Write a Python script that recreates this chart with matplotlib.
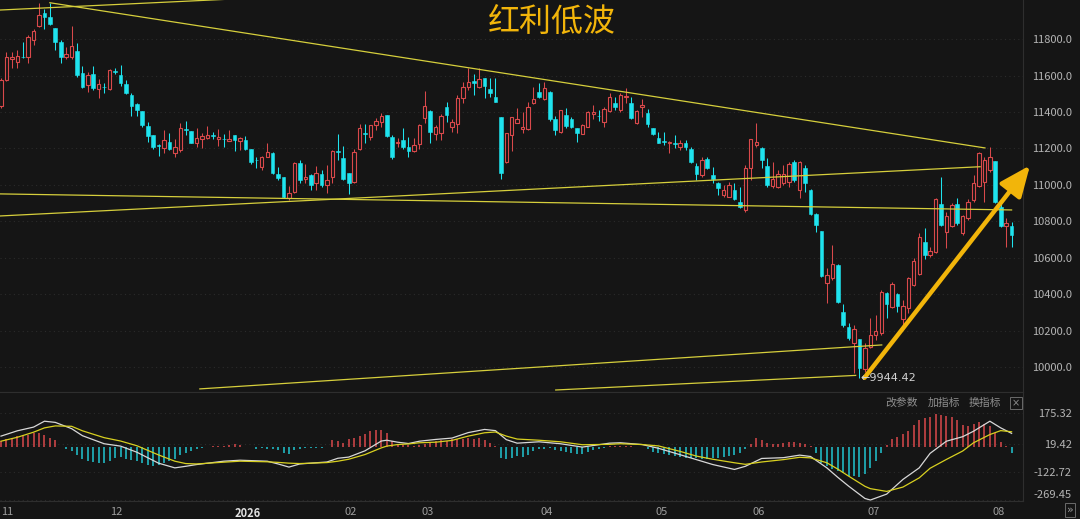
import matplotlib
matplotlib.use('Agg')
import matplotlib.pyplot as plt
import numpy as np
from matplotlib.patches import FancyArrowPatch

plt.rcParams['font.family'] = ['Noto Sans CJK SC', 'DejaVu Sans']

# 日K数据
opens = [
    11433, 11575, 11690, 11674, 11702, 11701, 11795, 11871, 11942, 11921,
    11860, 11784, 11701, 11701, 11734, 11614, 11548, 11608, 11526, 11539,
    11526, 11625, 11603, 11553, 11493, 11444, 11405, 11323, 11274, 11219,
    11203, 11236, 11175, 11192, 11307, 11296, 11232, 11250, 11259, 11272,
    11254, 11253, 11243, 11272, 11243, 11246, 11196, 11137, 11100, 11155,
    11177, 11058, 11042, 10930, 10960, 11119, 11033, 11053, 11012, 11060,
    11000, 11042, 11184, 11146, 11067, 11018, 11196, 11285, 11261, 11329,
    11347, 11383, 11265, 11228, 11246, 11210, 11188, 11225, 11365, 11407,
    11279, 11283, 11429, 11319, 11334, 11478, 11535, 11571, 11539, 11585,
    11524, 11484, 11374, 11128, 11274, 11341, 11307, 11305, 11448, 11511,
    11470, 11511, 11362, 11292, 11383, 11360, 11314, 11279, 11319, 11389,
    11380, 11347, 11407, 11448, 11411, 11481, 11448, 11341, 11426, 11393,
    11314, 11256, 11239, 11228, 11230, 11207, 11232, 11196, 11104, 11055,
    11141, 11055, 11009, 10945, 10936, 10973, 10908, 10863, 11091, 11219,
    11201, 11104, 10994, 10987, 11009, 11018, 11128, 10973, 11091, 10973,
    10841, 10749, 10461, 10489, 10562, 10306, 10223, 10136, 10154, 9990,
    10114, 10178, 10187, 10406, 10333, 10403, 10264, 10324, 10452, 10512,
    10689, 10616, 10634, 10896, 10744, 10775, 10896, 10738, 10817, 10918,
    10994, 11018, 11082, 11133, 10881, 10775, 10775]
highs = [
    11586, 11729, 11729, 11740, 11784, 11822, 11855, 11997, 11964, 11999,
    11862, 11795, 11756, 11871, 11778, 11652, 11619, 11652, 11581, 11559,
    11635, 11641, 11658, 11575, 11504, 11449, 11407, 11345, 11276, 11225,
    11301, 11285, 11252, 11340, 11352, 11298, 11312, 11285, 11323, 11290,
    11307, 11279, 11301, 11276, 11261, 11268, 11196, 11152, 11159, 11232,
    11178, 11100, 11043, 10994, 11126, 11137, 11115, 11060, 11104, 11082,
    11109, 11192, 11278, 11215, 11068, 11196, 11334, 11334, 11331, 11365,
    11393, 11385, 11274, 11256, 11314, 11261, 11256, 11334, 11517, 11411,
    11329, 11387, 11456, 11360, 11493, 11566, 11639, 11608, 11639, 11586,
    11585, 11585, 11375, 11285, 11374, 11420, 11402, 11456, 11535, 11561,
    11566, 11513, 11378, 11412, 11420, 11374, 11315, 11333, 11407, 11438,
    11411, 11429, 11502, 11484, 11506, 11530, 11484, 11411, 11470, 11415,
    11315, 11292, 11292, 11241, 11274, 11246, 11246, 11210, 11119, 11152,
    11153, 11097, 11018, 11000, 11018, 11009, 10991, 11109, 11251, 11338,
    11210, 11146, 11128, 11082, 11109, 11128, 11137, 11130, 11109, 10978,
    10845, 10750, 10543, 10671, 10565, 10348, 10245, 10233, 10155, 10136,
    10269, 10287, 10425, 10415, 10470, 10410, 10370, 10497, 10598, 10738,
    10763, 10662, 10927, 11045, 10854, 10903, 10927, 10835, 10922, 11055,
    11182, 11152, 11210, 11134, 10896, 10817, 10799]
lows = [
    11422, 11570, 11641, 11641, 11696, 11668, 11767, 11866, 11855, 11877,
    11740, 11668, 11690, 11690, 11592, 11531, 11510, 11520, 11477, 11504,
    11522, 11608, 11542, 11499, 11378, 11378, 11318, 11236, 11197, 11159,
    11175, 11192, 11153, 11181, 11274, 11228, 11210, 11203, 11252, 11252,
    11214, 11210, 11241, 11186, 11192, 11192, 11115, 11091, 11082, 11152,
    11062, 11027, 10927, 10918, 10956, 11012, 11012, 10973, 10973, 10991,
    10954, 11009, 11137, 11027, 10951, 11012, 11192, 11228, 11246, 11301,
    11319, 11261, 11141, 11207, 11196, 11152, 11182, 11196, 11338, 11232,
    11246, 11246, 11347, 11292, 11283, 11451, 11520, 11493, 11530, 11475,
    11481, 11454, 11031, 11119, 11188, 11339, 11283, 11301, 11446, 11475,
    11466, 11352, 11274, 11286, 11311, 11311, 11237, 11277, 11316, 11360,
    11352, 11319, 11402, 11411, 11402, 11451, 11360, 11334, 11371, 11319,
    11274, 11228, 11219, 11177, 11201, 11192, 11192, 11119, 11027, 11045,
    11090, 11009, 10945, 10936, 10933, 10918, 10872, 10854, 11027, 11210,
    11091, 10991, 10982, 10982, 11000, 10987, 11018, 10927, 10963, 10836,
    10744, 10497, 10351, 10479, 10351, 10223, 10151, 9968, 9944.42, 9977,
    10105, 10151, 10178, 10269, 10324, 10306, 10223, 10297, 10446, 10507,
    10593, 10607, 10629, 10775, 10653, 10771, 10781, 10726, 10808, 10908,
    10987, 10908, 11073, 10901, 10771, 10662, 10662]
closes = [
    11575, 11701, 11701, 11707, 11700, 11811, 11844, 11931, 11921, 11882,
    11784, 11701, 11718, 11762, 11603, 11537, 11603, 11531, 11553, 11536,
    11630, 11622, 11559, 11504, 11433, 11411, 11329, 11268, 11208, 11216,
    11246, 11197, 11208, 11312, 11303, 11232, 11256, 11268, 11276, 11269,
    11261, 11250, 11250, 11246, 11256, 11196, 11124, 11135, 11152, 11182,
    11064, 11037, 10936, 10958, 11122, 11027, 11045, 11000, 11064, 11000,
    11027, 11188, 11180, 11033, 11012, 11179, 11311, 11282, 11329, 11351,
    11378, 11268, 11155, 11237, 11210, 11188, 11219, 11329, 11433, 11292,
    11319, 11378, 11383, 11347, 11475, 11539, 11563, 11561, 11579, 11542,
    11502, 11456, 11064, 11283, 11371, 11360, 11319, 11429, 11470, 11480,
    11530, 11360, 11301, 11411, 11323, 11319, 11283, 11329, 11398, 11398,
    11376, 11415, 11481, 11429, 11493, 11488, 11365, 11407, 11438, 11334,
    11279, 11232, 11236, 11237, 11227, 11228, 11207, 11128, 11060, 11137,
    11093, 11031, 10985, 10973, 11000, 10922, 10878, 11091, 11250, 11237,
    11137, 11000, 11031, 11060, 11060, 11115, 11027, 11128, 11012, 10841,
    10781, 10501, 10507, 10567, 10357, 10233, 10160, 10209, 9995, 10105,
    10178, 10201, 10415, 10348, 10457, 10337, 10337, 10489, 10585, 10717,
    10616, 10640, 10922, 10781, 10830, 10890, 10790, 10830, 10908, 11009,
    11177, 11137, 11152, 10908, 10775, 10790, 10726]

# MACD柱
macd_hist = [
    35, 41, 49, 58, 66, 66, 75, 75, 66, 49,
    36, 3, -10, -19, -39, -61, -70, -73, -78, -78,
    -70, -56, -49, -61, -66, -70, -78, -87, -95, -87,
    -78, -70, -61, -36, -27, -19, -10, -3, 5, 7,
    8, 10, 12, 20, 12, 5, 2, -7, -5, -7,
    -8, -15, -27, -32, -12, -6, -5, -4, -4, -3,
    3, 36, 32, 24, 41, 49, 58, 70, 83, 87,
    87, 75, 32, 15, 12, 15, 10, 15, 18, 26,
    32, 36, 34, 41, 41, 44, 46, 41, 49, 36,
    24, 7, -53, -61, -53, -44, -48, -36, -19, -10,
    -10, -5, -12, -19, -22, -27, -32, -32, -22, -12,
    -7, -2, 8, 10, 7, 10, 8, 3, 3, -10,
    -22, -27, -32, -39, -44, -49, -53, -56, -56, -61,
    -61, -56, -53, -49, -44, -39, -27, -10, 19, 46,
    36, 24, 19, 19, 24, 27, 29, 24, 19, 7,
    -27, -78, -95, -112, -121, -129, -143, -146, -151, -134,
    -107, -70, -27, 12, 41, 53, 70, 83, 117, 138,
    148, 155, 173, 168, 163, 155, 138, 117, 112, 121,
    131, 121, 109, 75, 29, 7, -27]

# DIF / DEA（按K线序号读点）
line_idx = [0, 3, 6, 8, 10, 13, 15, 19, 22, 25, 29, 32, 34, 36, 41, 44, 49, 51, 53, 55,
            60, 62, 64, 67, 70, 71, 73, 75, 77, 80, 83, 86, 89, 91, 93, 95, 99, 103, 107, 112,
            114, 118, 121, 125, 128, 131, 135, 137, 140, 144, 147, 149, 152, 154, 156, 159, 160, 163, 166, 169,
            171, 174, 177, 179, 182, 184, 186]
dif = [58, 85, 104, 134, 128, 96, 60, 19, 7, -24, -80, -104, -96, -87, -70, -65, -70, -84, -100, -84,
       -74, -55, -49, -17, 33, 37, 27, 20, 32, 41, 48, 76, 92, 86, 40, 22, 29, 19, 2, 22,
       24, 15, -4, -37, -62, -87, -112, -96, -56, -52, -39, -46, -104, -152, -197, -260, -268, -238, -163, -104,
       -30, 32, 55, 83, 134, 100, 72]
dea = [32, 52, 78, 100, 110, 108, 85, 50, 33, 9, -38, -70, -82, -84, -75, -70, -73, -76, -80, -82,
       -77, -70, -60, -36, -2, 7, 15, 18, 24, 27, 36, 58, 75, 79, 58, 43, 37, 29, 14, 16,
       19, 15, 8, -20, -44, -60, -78, -86, -74, -62, -50, -53, -78, -110, -146, -198, -210, -224, -202, -155,
       -106, -61, -18, 24, 66, 86, 80]

# 画线（序号, 点位）
trend_lines = [
    ((-0.2, 11959), (60, 12044)),
    ((9, 11999), (181.1, 11203)),
    ((-0.2, 10951), (186.0, 10863)),
    ((-0.2, 10830), (180.2, 11100)),
    ((36.6, 9882), (162.1, 10123)),
    ((102.1, 9876), (157.3, 9956)),
]
arrow_from = (158.6, 9931)
arrow_to = (189.7, 11119)

tick_pos = [1.2, 21.3, 45.5, 64.4, 78.5, 100.5, 121.6, 139.5, 160.7, 183.6]
tick_lab = ['11', '12', '2026', '02', '03', '04', '05', '06', '07', '08']
price_ticks = [10000, 10200, 10400, 10600, 10800, 11000, 11200, 11400, 11600, 11800]
macd_ticks = [175.32, 19.42, -122.72, -269.45]

BG = '#151515'
RED = '#d9494b'
CYAN = '#1fe3ee'
LINE = '#d6cf3c'
GOLD = '#f2b50a'
GRID = '#2b2b2b'
EDGE = '#2e2e2e'

W, H = 1080, 519
fig = plt.figure(figsize=(W / 100, H / 100), dpi=100, facecolor=BG)
ax = fig.add_axes([0, 1 - 392 / H, 1023 / W, 392 / H], facecolor=BG)
ax2 = fig.add_axes([0, 1 - 501 / H, 1023 / W, 109 / H], facecolor=BG, sharex=ax)

o = np.array(opens, dtype=float)
h = np.array(highs, dtype=float)
l = np.array(lows, dtype=float)
c = np.array(closes, dtype=float)
x = np.arange(len(c))
up = c >= o

# K线
ax.vlines(x[up], l[up], h[up], color=RED, lw=0.75, zorder=2)
ax.vlines(x[~up], l[~up], h[~up], color=CYAN, lw=0.75, zorder=2)
ax.bar(x[up], c[up] - o[up], bottom=o[up], width=0.62, facecolor=BG,
       edgecolor=RED, lw=0.8, zorder=3)
ax.bar(x[~up], o[~up] - c[~up], bottom=c[~up], width=0.68, facecolor=CYAN,
       edgecolor=CYAN, lw=0.4, zorder=3)

for (x0, y0), (x1, y1) in trend_lines:
    ax.plot([x0, x1], [y0, y1], color=LINE, lw=0.9, zorder=4)

arr = FancyArrowPatch(arrow_from, arrow_to, arrowstyle='-|>,head_length=0.75,head_width=0.32',
                      mutation_scale=25, color=GOLD, lw=3.2, zorder=6, clip_on=False)
ax.add_patch(arr)

imin = int(np.argmin(l))
ax.annotate('\u2190' + f'{l[imin]:.2f}', xy=(imin, l[imin]), xytext=(1, 0),
            textcoords='offset points', ha='left', va='center', fontsize=8,
            color='#d2d2d2', family=['DejaVu Sans'], zorder=7)

ax.set_xlim(-0.18, 188.1)
ax.set_ylim(9865, 12014)
ax.yaxis.tick_right()
ax.set_yticks(price_ticks)
ax.set_yticklabels([f'{v:.1f}' for v in price_ticks])
ax.tick_params(axis='y', length=0, pad=35, labelsize=8, labelcolor='#b4b4b4')
for t in ax.get_yticklabels():
    t.set_ha('right')
ax.tick_params(axis='x', bottom=False, labelbottom=False)
ax.grid(axis='y', color=GRID, ls=(0, (1, 3)), lw=0.8)
for s in ['left', 'top']:
    ax.spines[s].set_visible(False)
for s in ['right', 'bottom']:
    ax.spines[s].set_color(EDGE)

# MACD
hist = np.array(macd_hist, dtype=float)
ax2.vlines(x, 0, hist, colors=np.where(hist >= 0, RED, '#22c6d2'), lw=1.1)
ax2.plot(line_idx, dif, color='#d8d8d8', lw=0.9)
ax2.plot(line_idx, dea, color='#d8d020', lw=0.9)
ax2.set_ylim(-273, 283)
ax2.yaxis.tick_right()
ax2.set_yticks(macd_ticks)
ax2.set_yticklabels([f'{v:.2f}' for v in macd_ticks])
ax2.tick_params(axis='y', length=0, pad=35, labelsize=8, labelcolor='#b4b4b4')
ylabs = ax2.get_yticklabels()
for t in ylabs:
    t.set_ha('right')
ylabs[-1].set_va('bottom')
ax2.grid(axis='y', color=GRID, ls=(0, (1, 3)), lw=0.8)
ax2.set_xticks(tick_pos)
ax2.set_xticklabels(tick_lab)
ax2.tick_params(axis='x', length=0, pad=4, labelsize=8, labelcolor='#9c9c9c')
for t in ax2.get_xticklabels():
    if t.get_text() == '2026':
        t.set_color('#e2e2e2')
        t.set_fontweight('bold')
ax2.spines['left'].set_visible(False)
for s in ['right', 'bottom', 'top']:
    ax2.spines[s].set_color(EDGE)

# 标题与指标菜单
fig.text(552 / W, 1 - 22 / H, '红利低波', color=GOLD, fontsize=23, ha='center', va='center')
for px, s in [(902, '改参数'), (944, '加指标'), (985, '换指标')]:
    fig.text(px / W, 1 - 403 / H, s, color='#8e8e8e', fontsize=7.8, ha='center', va='center')
fig.text(1016 / W, 1 - 403 / H, '×', color='#8e8e8e', fontsize=7, ha='center', va='center',
         family=['DejaVu Sans'],
         bbox=dict(boxstyle='square,pad=0.15', fc='none', ec='#6a6a6a', lw=0.7))
fig.text(1070 / W, 1 - 510 / H, '»', color='#9a9a9a', fontsize=8, ha='center', va='center',
         family=['DejaVu Sans'],
         bbox=dict(boxstyle='square,pad=0.15', fc='none', ec='#6a6a6a', lw=0.7))

fig.savefig('out.png', dpi=100, facecolor=BG)
